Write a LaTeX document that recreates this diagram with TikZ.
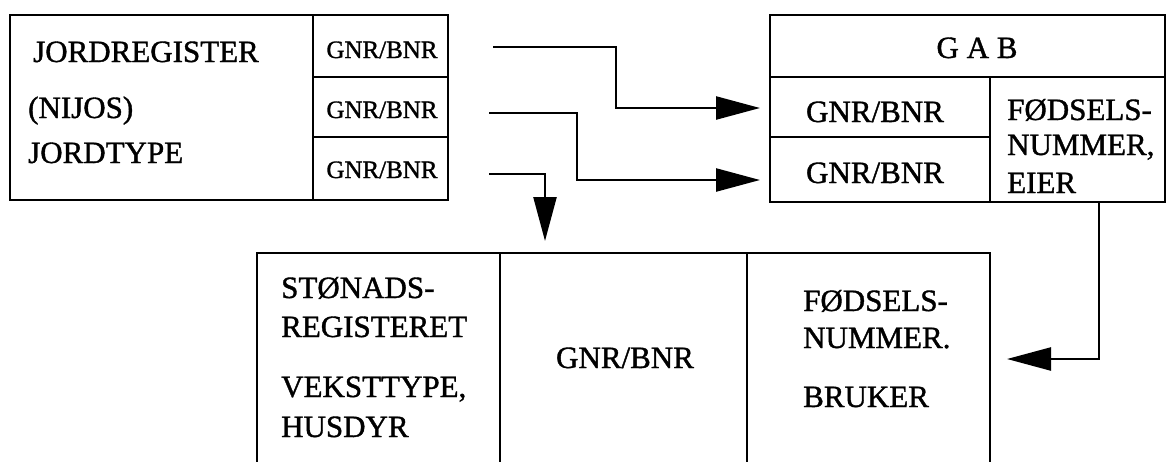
\documentclass[tikz,border=0pt]{standalone}
\usepackage{fontspec}
\setmainfont{Liberation Serif}[FakeBold=1.2]
\usetikzlibrary{arrows.meta, positioning}

\begin{document}
\begin{tikzpicture}[
    x=1pt, y=-1pt,
    cell/.style={rectangle, draw=black, line width=2.4pt, anchor=north west,
                 inner sep=0pt, outer sep=0pt},
    txt/.style={font=\fontsize{31}{36}\selectfont, inner sep=0pt, anchor=base west},
    ctxt/.style={txt, anchor=base},
    small/.style={ctxt, font=\fontsize{25}{30}\selectfont},
    arrow/.style={-{Triangle[length=44pt, width=23pt]}, line width=2.4pt}
]

\useasboundingbox (0,0) rectangle (1167,461);
\clip (0,0) rectangle (1167,461);

%% --- JORDREGISTER (top left) ---
\node[cell, minimum width=303, minimum height=185] (jord) at (10,15) {};
\node[cell, minimum width=135, minimum height=62] (jgnr1) at (jord.north east) {};
\node[cell, minimum width=135, minimum height=60, below=0pt of jgnr1] (jgnr2) {};
\node[cell, minimum width=135, minimum height=63, below=0pt of jgnr2] (jgnr3) {};

\node[txt] (jname) at (33,62)  {JORDREGISTER};
\node[txt] (jorg)  at (28,118) {(NIJOS)};
\node[txt] (jtype) at (28,163) {JORDTYPE};
\node[small] (jkey1) at (382,58)  {GNR/BNR};
\node[small] (jkey2) at (382,118) {GNR/BNR};
\node[small] (jkey3) at (382,178) {GNR/BNR};

%% --- GAB (top right) ---
\node[cell, minimum width=395, minimum height=62] (gab) at (770,15) {};
\node[cell, minimum width=220, minimum height=60] (ggnr1) at (gab.south west) {};
\node[cell, minimum width=220, minimum height=65, below=0pt of ggnr1] (ggnr2) {};
\node[cell, minimum width=175, minimum height=125] (geier) at (ggnr1.north east) {};

\node[ctxt] (gname) at (977,58)  {G A B};
\node[ctxt] (gkey1) at (875,122) {GNR/BNR};
\node[ctxt] (gkey2) at (875,183) {GNR/BNR};
\node[txt] (gfnr1) at (1007,120) {FØDSELS-};
\node[txt] (gfnr2) at (1007,155) {NUMMER,};
\node[txt] (gfnr3) at (1007,193) {EIER};

%% --- STØNADSREGISTERET (bottom, open below) ---
\node[cell, minimum width=243, minimum height=230] (stonad) at (257,253) {};
\node[cell, minimum width=247, minimum height=230] (sgnr) at (stonad.north east) {};
\node[cell, minimum width=243, minimum height=230] (sfnr) at (sgnr.north east) {};

\node[txt] (sname1) at (281,298) {STØNADS-};
\node[txt] (sname2) at (281,337) {REGISTERET};
\node[txt] (sdata1) at (281,397) {VEKSTTYPE,};
\node[txt] (sdata2) at (281,437) {HUSDYR};
\node[ctxt] (skey) at (625,368) {GNR/BNR};
\node[txt] (sfnr1) at (803,311) {FØDSELS-};
\node[txt] (sfnr2) at (803,348) {NUMMER.};
\node[txt] (sfnr3) at (803,407) {BRUKER};

%% --- ARROWS ---
\coordinate (a1) at (493,47);
\coordinate (b1) at (760,108);
\coordinate (a2) at (489,113);
\coordinate (b2) at (760,180);
\coordinate (a3) at (489,174);
\coordinate (b3) at (545,241);
\coordinate (a4) at (1099,202);
\coordinate (b4) at (1007,359);

\draw[arrow] (a1) -- ++(123,0) |- (b1);
\draw[arrow] (a2) -- ++(88,0) |- (b2);
\draw[arrow] (a3) -| (b3);
\draw[arrow] (a4) |- (b4);

\end{tikzpicture}
\end{document}
